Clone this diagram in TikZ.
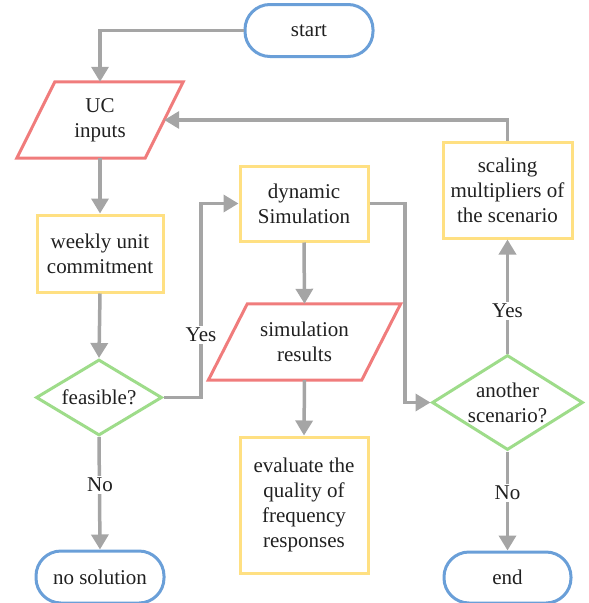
\documentclass[tikz,border=0pt]{standalone}
\usepackage{fontspec}
\setmainfont{Liberation Serif}
\newfontfamily\tnr{Liberation Serif}
\usetikzlibrary{shapes.geometric,arrows.meta,calc}
\definecolor{cblue}{HTML}{6A9FD8}
\definecolor{cred}{HTML}{F07C7C}
\definecolor{cyel}{HTML}{FFE082}
\definecolor{cgreen}{HTML}{9EDC8A}
\definecolor{cgray}{HTML}{A5A5A5}
\definecolor{ctext}{HTML}{202020}
\tikzset{
  base/.style={font=\tnr\fontsize{21}{25}\selectfont, text=ctext, align=center, inner sep=0pt},
  term/.style={base, draw=cblue, line width=3pt, rounded corners=25pt, minimum width=128pt, minimum height=52pt},
  procbox/.style={base, draw=cyel, line width=3pt},
  iobox/.style={base, minimum width=128pt, minimum height=76pt},
  iodraw/.style={draw=cred, line width=3pt, line join=miter},
  decis/.style={base, shape=diamond, draw=cgreen, line width=3pt, aspect=1.6},
  conn/.style={draw=cgray, line width=3.5pt, -{Triangle[length=15pt,width=17pt]}},
  lbl/.style={base, fill=white, inner sep=2pt}
}
\begin{document}
\begin{tikzpicture}[x=1pt,y=-1pt]
\useasboundingbox (0,0) rectangle (589,603);
% nodes
\node[term] (start) at (309,30.5) {start};
\node[iobox] (uc) at (100,120) {UC\\inputs};
\draw[iodraw] ([xshift=19pt]uc.north west) -- ([xshift=19pt]uc.north east) -- ([xshift=-19pt]uc.south east) -- ([xshift=-19pt]uc.south west) -- cycle;
\node[procbox, minimum width=126pt, minimum height=77pt] (wuc) at (100,253.5) {weekly unit\\commitment};
\node[decis, minimum width=126pt, minimum height=76pt] (feas) at (99,397.5) {feasible?};
\node[term] (nos) at (100,577) {no solution};
\node[procbox, minimum width=128pt, minimum height=75pt] (dyn) at (304,203.5) {dynamic\\Simulation};
\node[iobox, minimum width=153pt] (sim) at (304.5,342) {simulation\\results};
\draw[iodraw] ([xshift=19.5pt]sim.north west) -- ([xshift=19.5pt]sim.north east) -- ([xshift=-19.5pt]sim.south east) -- ([xshift=-19.5pt]sim.south west) -- cycle;
\node[procbox, minimum width=128pt, minimum height=136pt] (eval) at (304,505) {evaluate the\\quality of\\frequency\\responses};
\node[procbox, minimum width=129pt, minimum height=96pt] (scl) at (507.5,190) {scaling\\multipliers of\\the scenario};
\node[decis, minimum width=151pt, minimum height=95pt] (ano) at (507.5,402.5) {another\\scenario?};
\node[term, minimum width=127pt, minimum height=51pt] (endn) at (507.5,577.5) {end};
% connectors
\draw[conn] (start.west) -| (uc.north);
\draw[conn] (uc.south) -- (wuc.north);
\draw[conn] (wuc.south) -- (feas.north);
\draw[conn] (feas.south) -- (nos.north);
\node[lbl] at (100,485) {No};
\coordinate (yk) at (201,397.5);
\draw[conn] (feas.east) -- (yk) |- (dyn.west);
\node[lbl] at (201,335) {Yes};
\draw[conn] (dyn.south) -- (sim.north);
\draw[conn] (sim.south) -- (eval.north);
\coordinate (dk) at (405,203.5);
\draw[conn] (dyn.east) -- (dk) |- (ano.west);
\draw[conn] (ano.north) -- (scl.south);
\node[lbl] at (507.5,311) {Yes};
\draw[conn] (ano.south) -- (endn.north);
\node[lbl] at (507.5,493) {No};
\draw[conn] (scl.north) |- (uc.east);
\end{tikzpicture}
\end{document}
